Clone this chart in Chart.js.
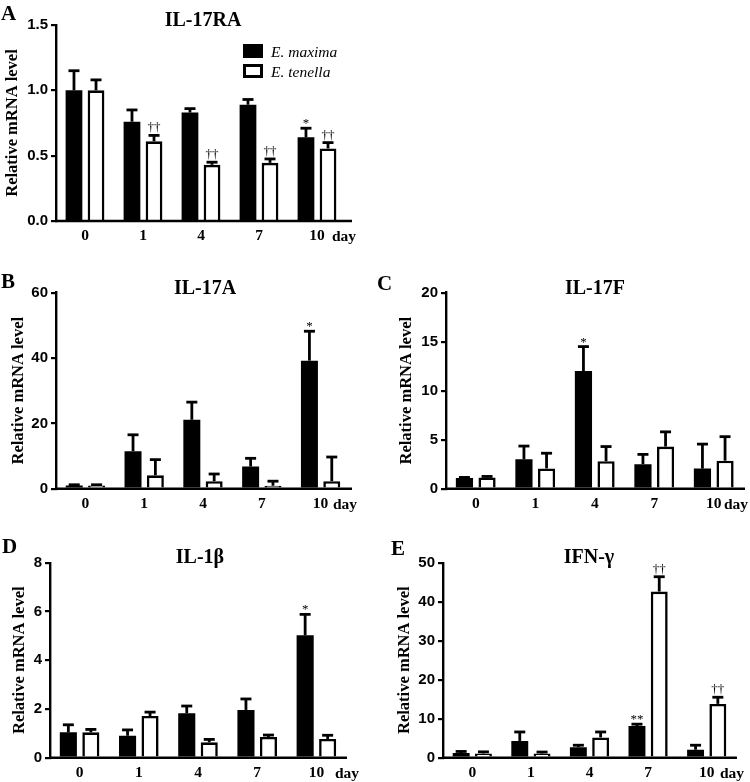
<!DOCTYPE html>
<html>
<head>
<meta charset="utf-8">
<script src="https://cdn.jsdelivr.net/npm/chart.js@4.4.1/dist/chart.umd.min.js"></script>
<style>
body { margin:0; background:#fff; width:750px; height:782px; position:relative; overflow:hidden; }
canvas { position:absolute; }
</style>
</head>
<body>
<canvas id="chartA"></canvas>
<canvas id="chartB"></canvas>
<canvas id="chartC"></canvas>
<canvas id="chartD"></canvas>
<canvas id="chartE"></canvas>
<script>
// ---- data ----
const days = ['0', '1', '4', '7', '10'];
const seriesNames = ['E. maxima', 'E. tenella'];

// A: IL-17RA
const il17raMaxima   = [1.00, 0.76, 0.83, 0.89, 0.64];
const il17raMaximaSD = [0.15, 0.09, 0.03, 0.04, 0.07];
const il17raTenella   = [1.00, 0.61, 0.43, 0.445, 0.555];
const il17raTenellaSD = [0.08, 0.045, 0.02, 0.03, 0.045];
const il17raMaximaSig = ['', '', '', '', '*'];
const il17raTenellaSig = ['', '††', '††', '††', '††'];
const il17raTicks = [0, 0.5, 1.0, 1.5];
const il17raTickLabels = ['0.0', '0.5', '1.0', '1.5'];

// B: IL-17A
const il17aMaxima   = [1.0, 11.5, 21.1, 6.8, 39.2];
const il17aMaximaSD = [0.2, 5.0, 5.4, 2.5, 9.0];
const il17aTenella   = [1.0, 4.1, 2.3, 0.9, 2.3];
const il17aTenellaSD = [0.2, 4.8, 2.2, 1.4, 7.4];
const il17aMaximaSig = ['', '', '', '', '*'];
const il17aTenellaSig = ['', '', '', '', ''];
const il17aTicks = [0, 20, 40, 60];
const il17aTickLabels = ['0', '20', '40', '60'];

// C: IL-17F
const il17fMaxima   = [1.1, 3.0, 12.0, 2.5, 2.05];
const il17fMaximaSD = [0.05, 1.35, 2.5, 1.0, 2.5];
const il17fTenella   = [1.15, 2.07, 2.8, 4.3, 2.86];
const il17fTenellaSD = [0.1, 1.55, 1.5, 1.5, 2.45];
const il17fMaximaSig = ['', '', '*', '', ''];
const il17fTenellaSig = ['', '', '', '', ''];
const il17fTicks = [0, 5, 10, 15, 20];
const il17fTickLabels = ['0', '5', '10', '15', '20'];

// D: IL-1β
const il1bMaxima   = [1.04, 0.90, 1.82, 1.96, 5.02];
const il1bMaximaSD = [0.31, 0.24, 0.30, 0.45, 0.86];
const il1bTenella   = [1.04, 1.71, 0.63, 0.85, 0.77];
const il1bTenellaSD = [0.12, 0.16, 0.12, 0.08, 0.15];
const il1bMaximaSig = ['', '', '', '', '*'];
const il1bTenellaSig = ['', '', '', '', ''];
const il1bTicks = [0, 2, 4, 6, 8];
const il1bTickLabels = ['0', '2', '4', '6', '8'];

// E: IFN-γ
const ifngMaxima   = [1.2, 4.3, 2.7, 8.1, 2.05];
const ifngMaximaSD = [0.4, 2.3, 0.5, 0.5, 1.15];
const ifngTenella   = [1.1, 1.1, 5.2, 42.6, 13.8];
const ifngTenellaSD = [0.4, 0.35, 1.4, 3.8, 1.7];
const ifngMaximaSig = ['', '', '', '**', ''];
const ifngTenellaSig = ['', '', '', '††', '††'];
const ifngTicks = [0, 10, 20, 30, 40, 50];
const ifngTickLabels = ['0', '10', '20', '30', '40', '50'];

// ---- drawing helpers ----
const serif = "'Liberation Serif', 'Times New Roman', serif";
const sans = "'Liberation Sans', Arial, sans-serif";
const axisTitleSize = 16.5;

const panelDecor = {
  id: 'panelDecor',
  afterDatasetsDraw(chart, args, o) {
    const ctx = chart.ctx;
    const area = chart.chartArea;
    const y = chart.scales.y;
    ctx.save();
    ctx.strokeStyle = '#000';
    ctx.fillStyle = '#000';
    // error bars + significance marks
    chart.data.datasets.forEach((ds, i) => {
      const meta = chart.getDatasetMeta(i);
      meta.data.forEach((bar, j) => {
        const top = y.getPixelForValue(ds.data[j] + ds.sd[j]);
        ctx.lineWidth = 2.8;
        ctx.beginPath();
        ctx.moveTo(bar.x, bar.y);
        ctx.lineTo(bar.x, top);
        ctx.stroke();
        ctx.beginPath();
        ctx.moveTo(bar.x - 5.5, top);
        ctx.lineTo(bar.x + 5.5, top);
        ctx.stroke();
        const s = ds.sig[j];
        if (s) {
          ctx.font = '13px ' + serif;
          ctx.textAlign = 'center';
          ctx.textBaseline = 'alphabetic';
          ctx.fillText(s, bar.x, s.indexOf('*') >= 0 ? top - 1 : top - 4);
        }
      });
    });
    // x axis line
    ctx.lineWidth = 2.4;
    ctx.beginPath();
    ctx.moveTo(area.left - 1, area.bottom);
    ctx.lineTo(o.axisEnd, area.bottom);
    ctx.stroke();
    // "day" label
    ctx.font = 'bold 15.5px ' + serif;
    ctx.textAlign = 'left';
    ctx.textBaseline = 'alphabetic';
    ctx.fillText('day', o.dayX, area.bottom + 20);
    // panel letter and title
    ctx.font = 'bold 21px ' + serif;
    ctx.fillText(o.letter, o.letterX, o.letterY);
    ctx.font = 'bold 20px ' + serif;
    ctx.textAlign = 'center';
    ctx.fillText(o.title, o.titleX, o.titleY);
    // legend
    if (o.legend) {
      const lg = o.legend;
      chart.data.datasets.forEach((ds, i) => {
        const by = lg.y + i * 20;
        ctx.fillStyle = '#000';
        ctx.fillRect(lg.x, by, 20, 14);
        if (ds.backgroundColor !== '#000') {
          ctx.fillStyle = ds.backgroundColor;
          ctx.fillRect(lg.x + 3, by + 3, 14, 8);
        }
        ctx.fillStyle = '#000';
        ctx.font = 'italic 15.5px ' + serif;
        ctx.textAlign = 'left';
        ctx.fillText(ds.label, lg.x + 28, by + 13);
      });
    }
    ctx.restore();
  }
};

function makePanel(id, box, area, titleAxisX, vals, deco) {
  const [cx, cy, cw, ch] = box;
  const [L, T, R, B] = area;
  const xH = 22;
  const padLeft = titleAxisX - cx - (axisTitleSize * 1.2 / 2 + 4);
  const canvas = document.getElementById(id);
  canvas.width = cw;
  canvas.height = ch;
  canvas.style.left = cx + 'px';
  canvas.style.top = cy + 'px';

  const local = {
    axisEnd: deco.axisEnd - cx,
    dayX: deco.dayX - cx,
    letter: deco.letter,
    letterX: deco.letterX - cx,
    letterY: deco.letterY - cy,
    title: deco.title,
    titleX: deco.titleX - cx,
    titleY: deco.titleY - cy,
    legend: deco.legend ? { x: deco.legend.x - cx, y: deco.legend.y - cy } : null
  };

  return new Chart(canvas.getContext('2d'), {
    type: 'bar',
    data: {
      labels: days,
      datasets: [
        { label: seriesNames[0], data: vals.maxima, sd: vals.maximaSD, sig: vals.maximaSig,
          backgroundColor: '#000', borderColor: '#000', borderWidth: 0 },
        { label: seriesNames[1], data: vals.tenella, sd: vals.tenellaSD, sig: vals.tenellaSig,
          backgroundColor: '#fff', borderColor: '#000', borderWidth: 2.6 }
      ]
    },
    options: {
      responsive: false,
      animation: false,
      events: [],
      categoryPercentage: 0.76,
      barPercentage: 0.76,
      layout: {
        padding: { left: padLeft, top: T - cy, right: cx + cw - R, bottom: cy + ch - B - xH }
      },
      plugins: {
        legend: { display: false },
        tooltip: { enabled: false },
        panelDecor: local
      },
      scales: {
        x: {
          grid: { display: false, drawTicks: false },
          border: { display: false },
          ticks: { color: '#000', font: { family: serif, size: 15.5, weight: 'bold' }, padding: 6,
                   maxRotation: 0, autoSkip: false },
          afterFit: s => { s.height = xH; }
        },
        y: {
          min: vals.ticks[0],
          max: vals.ticks[vals.ticks.length - 1],
          afterBuildTicks: s => { s.ticks = vals.ticks.map(v => ({ value: v })); },
          afterFit: s => { s.width = L - cx - padLeft; },
          grid: { drawOnChartArea: false, drawTicks: true, tickLength: 5, color: '#000', lineWidth: 2.2 },
          border: { display: true, color: '#000', width: 2.4 },
          ticks: { color: '#000', padding: 3, font: { family: sans, size: 15, weight: 'bold' },
                   callback: (v, i) => vals.tickLabels[i] },
          title: { display: true, text: 'Relative mRNA level', color: '#000',
                   font: { family: serif, size: axisTitleSize, weight: 'bold' }, padding: { top: 4, bottom: 4 } }
        }
      }
    },
    plugins: [panelDecor]
  });
}

makePanel('chartA', [0, 0, 375, 262], [56, 25, 346, 221], 13,
  { maxima: il17raMaxima, maximaSD: il17raMaximaSD, maximaSig: il17raMaximaSig,
    tenella: il17raTenella, tenellaSD: il17raTenellaSD, tenellaSig: il17raTenellaSig,
    ticks: il17raTicks, tickLabels: il17raTickLabels },
  { axisEnd: 352, dayX: 332, letter: 'A', letterX: 1, letterY: 20,
    title: 'IL-17RA', titleX: 203, titleY: 26, legend: { x: 243, y: 44 } });

makePanel('chartB', [0, 262, 375, 258], [56, 292.7, 350, 488.7], 19,
  { maxima: il17aMaxima, maximaSD: il17aMaximaSD, maximaSig: il17aMaximaSig,
    tenella: il17aTenella, tenellaSD: il17aTenellaSD, tenellaSig: il17aTenellaSig,
    ticks: il17aTicks, tickLabels: il17aTickLabels },
  { axisEnd: 352, dayX: 333, letter: 'B', letterX: 1, letterY: 288,
    title: 'IL-17A', titleX: 205, titleY: 294 });

makePanel('chartC', [375, 262, 375, 258], [446, 292.7, 743.5, 488.7], 407,
  { maxima: il17fMaxima, maximaSD: il17fMaximaSD, maximaSig: il17fMaximaSig,
    tenella: il17fTenella, tenellaSD: il17fTenellaSD, tenellaSig: il17fTenellaSig,
    ticks: il17fTicks, tickLabels: il17fTickLabels },
  { axisEnd: 745, dayX: 724, letter: 'C', letterX: 377, letterY: 290,
    title: 'IL-17F', titleX: 595, titleY: 294 });

makePanel('chartD', [0, 520, 375, 262], [50, 562.7, 346, 757.7], 20,
  { maxima: il1bMaxima, maximaSD: il1bMaximaSD, maximaSig: il1bMaximaSig,
    tenella: il1bTenella, tenellaSD: il1bTenellaSD, tenellaSig: il1bTenellaSig,
    ticks: il1bTicks, tickLabels: il1bTickLabels },
  { axisEnd: 347, dayX: 335, letter: 'D', letterX: 2, letterY: 553,
    title: 'IL-1β', titleX: 200, titleY: 563 });

makePanel('chartE', [375, 520, 375, 262], [443, 562.7, 736, 757.7], 404.5,
  { maxima: ifngMaxima, maximaSD: ifngMaximaSD, maximaSig: ifngMaximaSig,
    tenella: ifngTenella, tenellaSD: ifngTenellaSD, tenellaSig: ifngTenellaSig,
    ticks: ifngTicks, tickLabels: ifngTickLabels },
  { axisEnd: 737, dayX: 720, letter: 'E', letterX: 391, letterY: 555,
    title: 'IFN-γ', titleX: 589, titleY: 563 });
</script>
</body>
</html>
